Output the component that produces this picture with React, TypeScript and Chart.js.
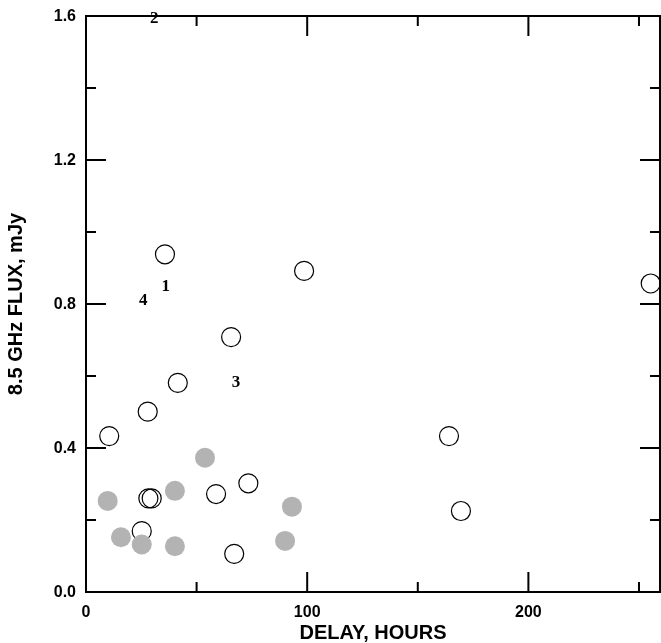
import React, { useEffect, useRef } from 'react';
import { Chart, registerables } from 'chart.js';

Chart.register(...registerables);

// Open circles
const openDelay = [10.5, 27.9, 28.2, 29.7, 25.2, 58.8, 73.4, 67.0, 164.1, 169.5, 35.7, 65.6, 41.5, 98.6, 255.3];
const openFlux = [0.433, 0.501, 0.26, 0.26, 0.169, 0.272, 0.302, 0.106, 0.433, 0.225, 0.938, 0.708, 0.581, 0.892, 0.857];

// Filled (grey) circles
const filledDelay = [9.8, 15.8, 25.2, 40.2, 40.2, 53.8, 93.1, 90.0];
const filledFlux = [0.253, 0.152, 0.132, 0.281, 0.127, 0.373, 0.237, 0.142];

// Numbered annotations
const noteLabels = ['1', '2', '3', '4'];
const noteDelay = [36.0, 30.9, 67.8, 25.9];
const noteFlux = [0.848, 1.594, 0.581, 0.809];

// Ticks
const xTickValues = [0, 50, 100, 150, 200, 250];
const xTickLabels = ['0', '', '100', '', '200', ''];
const yTickValues = [0, 0.2, 0.4, 0.6, 0.8, 1.0, 1.2, 1.4, 1.6];
const yTickLabels = ['0.0', '', '0.4', '', '0.8', '', '1.2', '', '1.6'];

const xTitle = 'DELAY, HOURS';
const yTitle = '8.5 GHz FLUX, mJy';

const SANS = '"Liberation Sans", Arial, Helvetica, sans-serif';
const SERIF = '"Liberation Serif", "Times New Roman", serif';

const zeroPad = (scale: any) => {
  scale.paddingTop = 0;
  scale.paddingBottom = 0;
  scale.paddingLeft = 0;
  scale.paddingRight = 0;
};

const framePlugin = {
  id: 'frameTicks',
  afterDatasetsDraw(chart: any) {
    const { ctx, chartArea } = chart;
    const { left, right, top, bottom } = chartArea;
    const xs = chart.scales.x;
    const ys = chart.scales.y;
    ctx.save();
    ctx.strokeStyle = '#000';
    ctx.lineWidth = 2;
    ctx.lineCap = 'butt';
    ctx.beginPath();
    ctx.rect(left, top, right - left, bottom - top);
    ctx.stroke();
    ctx.beginPath();
    xTickValues.forEach((v, i) => {
      const px = xs.getPixelForValue(v);
      const len = xTickLabels[i] ? 20 : 10;
      ctx.moveTo(px, bottom);
      ctx.lineTo(px, bottom - len);
      ctx.moveTo(px, top);
      ctx.lineTo(px, top + len);
    });
    yTickValues.forEach((v, i) => {
      const py = ys.getPixelForValue(v);
      const len = yTickLabels[i] ? 20 : 10;
      ctx.moveTo(left, py);
      ctx.lineTo(left + len, py);
      ctx.moveTo(right, py);
      ctx.lineTo(right - len, py);
    });
    ctx.stroke();

    ctx.fillStyle = '#000';
    ctx.font = `bold 17px ${SERIF}`;
    ctx.textAlign = 'center';
    ctx.textBaseline = 'middle';
    noteLabels.forEach((t, i) => {
      ctx.fillText(t, xs.getPixelForValue(noteDelay[i]), ys.getPixelForValue(noteFlux[i]));
    });
    ctx.restore();
  },
};

export default function App() {
  const ref = useRef<HTMLCanvasElement | null>(null);

  useEffect(() => {
    if (!ref.current) return;
    const chart = new Chart(ref.current, {
      type: 'scatter',
      data: {
        datasets: [
          {
            label: 'filled',
            data: filledDelay.map((x, i) => ({ x, y: filledFlux[i] })),
            pointRadius: 10,
            pointHoverRadius: 10,
            pointBorderWidth: 0,
            backgroundColor: '#b3b3b3',
            borderColor: '#b3b3b3',
            order: 0,
            clip: false as any,
          },
          {
            label: 'open',
            data: openDelay.map((x, i) => ({ x, y: openFlux[i] })),
            pointRadius: 9.5,
            pointHoverRadius: 9.5,
            pointBorderWidth: 1.2,
            backgroundColor: 'rgba(0,0,0,0)',
            borderColor: '#000',
            order: 1,
            clip: false as any,
          },
        ],
      },
      options: {
        responsive: false,
        animation: false,
        events: [],
        layout: { padding: { top: 16, right: 1, left: 0, bottom: 0 }, autoPadding: false } as any,
        plugins: {
          legend: { display: false },
          tooltip: { enabled: false },
        },
        scales: {
          x: {
            type: 'linear',
            min: 0,
            max: 259.5,
            afterBuildTicks: (scale: any) => {
              scale.ticks = xTickValues.map((value) => ({ value }));
            },
            afterFit: (scale: any) => {
              scale.height = 51;
              zeroPad(scale);
            },
            grid: { display: false, drawTicks: false },
            border: { display: false },
            ticks: {
              padding: 11,
              color: '#000',
              font: { family: SANS, size: 16, weight: 'bold' },
              maxRotation: 0,
              autoSkip: false,
              callback: (v: any) => {
                const i = xTickValues.indexOf(Number(v));
                return i >= 0 ? xTickLabels[i] : '';
              },
            },
            title: {
              display: true,
              text: xTitle,
              color: '#000',
              font: { family: SANS, size: 20, weight: 'bold', lineHeight: 1 },
              padding: 0,
            },
          },
          y: {
            type: 'linear',
            min: 0,
            max: 1.6,
            afterBuildTicks: (scale: any) => {
              scale.ticks = yTickValues.map((value) => ({ value }));
            },
            afterFit: (scale: any) => {
              scale.width = 86;
              zeroPad(scale);
            },
            grid: { display: false, drawTicks: false },
            border: { display: false },
            ticks: {
              padding: 10,
              labelOffset: 1,
              color: '#000',
              font: { family: SANS, size: 16, weight: 'bold' },
              autoSkip: false,
              callback: (v: any) => {
                const i = yTickValues.findIndex((t) => Math.abs(t - Number(v)) < 1e-6);
                return i >= 0 ? yTickLabels[i] : '';
              },
            },
            title: {
              display: true,
              text: yTitle,
              color: '#000',
              font: { family: SANS, size: 20, weight: 'bold', lineHeight: 1 },
              padding: { top: 6.5, bottom: 0 },
            },
          },
        },
      },
      plugins: [framePlugin],
    } as any);
    return () => chart.destroy();
  }, []);

  return (
    <div style={{ position: 'absolute', left: 0, top: 0, width: 661, height: 643, background: '#fff' }}>
      <canvas ref={ref} width={661} height={643} style={{ display: 'block', width: 661, height: 643 }} />
    </div>
  );
}
